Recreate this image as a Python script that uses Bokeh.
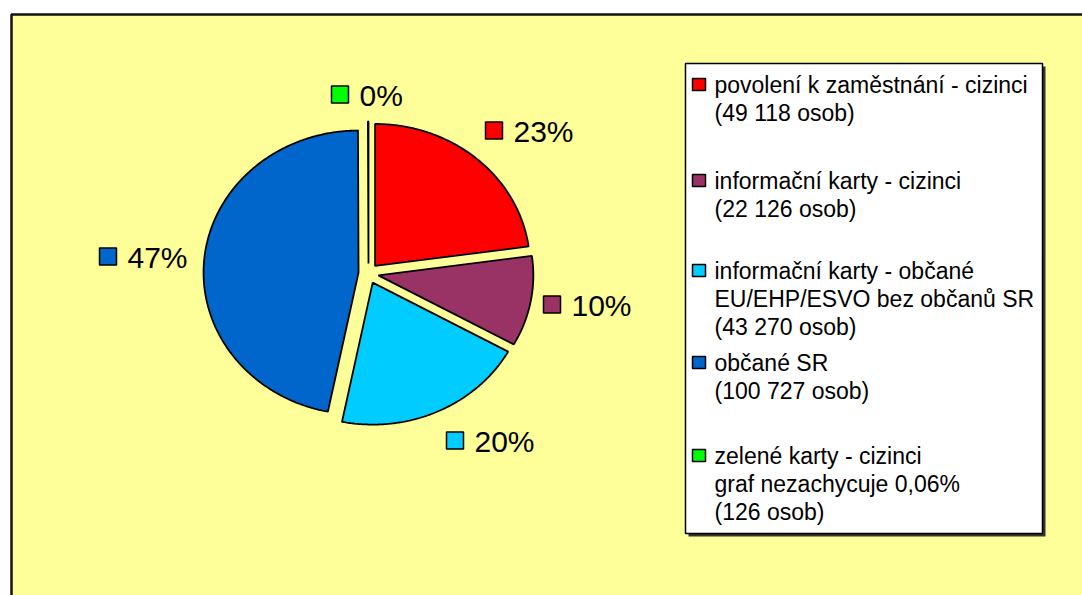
import numpy as np
from bokeh.plotting import figure
from bokeh.models import Range1d
from bokeh.core.properties import value
from bokeh.embed import file_html
from bokeh.resources import INLINE

# ---------------- data ----------------
categories = [
    "povolení k zaměstnání - cizinci",
    "informační karty - cizinci",
    "informační karty - občané EU/EHP/ESVO bez občanů SR",
    "občané SR",
    "zelené karty - cizinci",
]
counts = [49118, 22126, 43270, 100727, 126]
colors = ["#FF0000", "#993366", "#00CCFF", "#0066CC", "#00FF00"]
legend_lines = [
    ["povolení k zaměstnání - cizinci", "(49 118 osob)"],
    ["informační karty - cizinci", "(22 126 osob)"],
    ["informační karty - občané", "EU/EHP/ESVO bez občanů SR", "(43 270 osob)"],
    ["občané SR", "(100 727 osob)"],
    ["zelené karty - cizinci", "graf nezachycuje 0,06%", "(126 osob)"],
]

# ---------------- layout (page pixels) ----------------
W, H = 1082, 595
OX, OY = 0, 0
FONT = "Liberation Sans"

def px(x):
    return x - OX

def py(y):
    return y - OY

p = figure(width=W, height=H, x_range=Range1d(0, W), y_range=Range1d(H, 0),
           output_backend="svg", toolbar_location=None, min_border=0,
           x_axis_type=None, y_axis_type=None)
p.grid.visible = False
p.outline_line_color = None
p.background_fill_color = "white"
p.border_fill_color = "white"

# chart area frame
p.quad(left=px(11), right=W + 20, top=py(14), bottom=H + 20,
       fill_color="#FFFF99", line_color="#111111", line_width=2.5)

# ---------------- exploded pie ----------------
cx, cy = px(368), py(273)
rx, ry = 155, 142
explode = 10
vals = np.array(counts, dtype=float)
fr = vals / vals.sum()
ends = np.cumsum(fr) * 2 * np.pi
starts = ends - fr * 2 * np.pi
xs, ys = [], []
for a0, a1 in zip(starts, ends):
    mid = (a0 + a1) / 2
    ax = cx + explode * np.sin(mid)
    ay = cy - explode * np.cos(mid)
    t = np.linspace(a0, a1, max(3, int((a1 - a0) * 120)))
    xs.append([ax] + list(ax + rx * np.sin(t)))
    ys.append([ay] + list(ay - ry * np.cos(t)))
p.patches(xs, ys, fill_color=colors, line_color="black", line_width=1.8)

# ---------------- percentage labels ----------------
label_pos = [(485, 130), (543, 304), (446, 440), (99, 256), (331, 94)]
pct = [f"{int(round(f * 100))}%" for f in fr]
sq = 17
for (lx, ly), c, t in zip(label_pos, colors, pct):
    p.quad(left=px(lx), right=px(lx + sq), top=py(ly - sq / 2), bottom=py(ly + sq / 2),
           fill_color=c, line_color="black", line_width=1.5)
    p.text(x=[px(lx + sq + 11)], y=[py(ly + 1)], text=[t],
           text_font=value(FONT), text_font_size=value("30px"),
           text_baseline="middle", text_align="left", text_color="black")

# ---------------- legend ----------------
lg_l, lg_t, lg_r, lg_b = 685, 63, 1042, 533
p.quad(left=px(lg_l + 3), right=px(lg_r + 3), top=py(lg_t + 3), bottom=py(lg_b + 3),
       fill_color="#333333", line_color=None)
p.quad(left=px(lg_l), right=px(lg_r), top=py(lg_t), bottom=py(lg_b),
       fill_color="white", line_color="black", line_width=1.5)

entry_y = [[84, 112], [180, 208], [270, 298, 326], [362, 390], [455, 483, 511]]
for lines, ys_, c in zip(legend_lines, entry_y, colors):
    p.quad(left=px(692), right=px(705), top=py(ys_[0] - 6), bottom=py(ys_[0] + 6),
           fill_color=c, line_color="black", line_width=1.5)
    p.text(x=[px(714)] * len(lines), y=[py(v) for v in ys_], text=lines,
           text_font=value(FONT), text_font_size=value("23px"),
           text_baseline="middle", text_align="left", text_color="black")

open("out.html", "w").write(file_html(p, INLINE))
